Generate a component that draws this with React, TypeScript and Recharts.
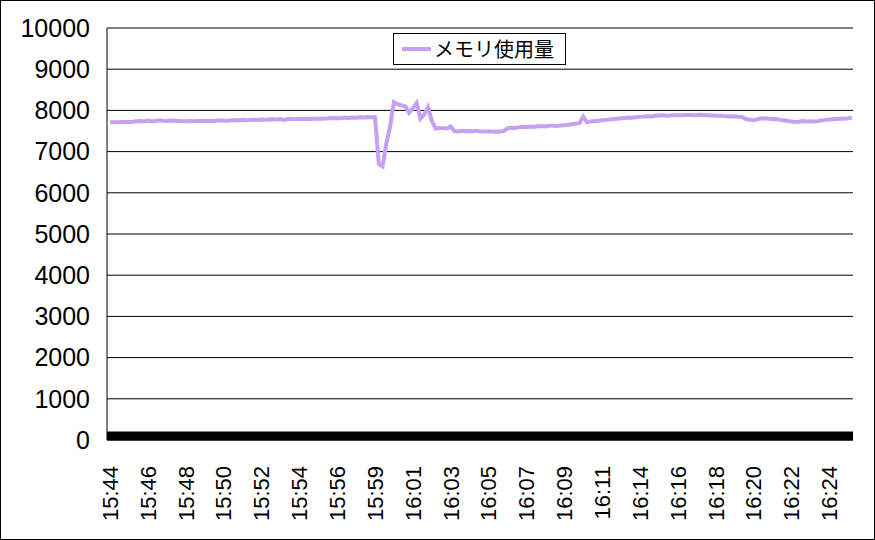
import { CartesianGrid, Line, LineChart, XAxis, YAxis } from 'recharts';

const timeLabels = [
  '15:44', '15:46', '15:48', '15:50', '15:52', '15:54', '15:56', '15:59', '16:01', '16:03',
  '16:05', '16:07', '16:09', '16:11', '16:14', '16:16', '16:18', '16:20', '16:22', '16:24',
];

// one sample roughly every 12 s, a time label every 10 samples
const memoryUsage = [
  7710, 7715, 7712, 7718, 7716, 7720, 7722, 7735, 7745, 7730,
  7752, 7738, 7745, 7760, 7748, 7742, 7755, 7750, 7745, 7740,
  7738, 7742, 7735, 7740, 7745, 7742, 7748, 7745, 7750, 7758,
  7752, 7748, 7760, 7765, 7758, 7770, 7762, 7768, 7775, 7770,
  7780, 7772, 7778, 7785, 7780, 7788, 7770, 7790, 7790, 7788,
  7792, 7790, 7795, 7790, 7795, 7798, 7800, 7805, 7810, 7815,
  7808, 7812, 7825, 7818, 7830, 7822, 7835, 7830, 7842, 7835,
  7840, 6700, 6640, 7200, 7620, 8200, 8150, 8120, 8100, 7940,
  8050, 8180, 7800, 7900, 8080, 7750, 7560, 7580, 7570, 7560,
  7610, 7500, 7490, 7505, 7495, 7500, 7495, 7505, 7490, 7485,
  7495, 7480, 7490, 7485, 7500, 7565, 7580, 7575, 7590, 7600,
  7595, 7610, 7600, 7615, 7620, 7610, 7625, 7630, 7620, 7635,
  7640, 7650, 7665, 7680, 7690, 7850, 7710, 7730, 7740, 7750,
  7760, 7770, 7780, 7790, 7800, 7810, 7815, 7825, 7820, 7835,
  7845, 7850, 7860, 7855, 7870, 7875, 7880, 7870, 7878, 7882,
  7885, 7880, 7888, 7890, 7885, 7888, 7892, 7885, 7880, 7875,
  7870, 7868, 7862, 7858, 7850, 7855, 7845, 7840, 7790, 7775,
  7760, 7780, 7810, 7805, 7795, 7785, 7790, 7770, 7760, 7745,
  7730, 7720, 7725, 7740, 7730, 7735, 7728, 7740, 7755, 7770,
  7780, 7785, 7790, 7795, 7800, 7810, 7825,
];

const yTicks = [0, 1000, 2000, 3000, 4000, 5000, 6000, 7000, 8000, 9000, 10000];

const LINE_COLOR = '#C8A0F2';
const FONT = '"Liberation Sans", Arial, sans-serif';

const data = memoryUsage.map((v, i) => ({ i, usage: v }));
const xTicks = timeLabels.map((_, k) => k * 10);

function TimeTick({ x, y, payload }: any) {
  return (
    <text
      x={x}
      y={y + 18}
      dy="0.36em"
      transform={`rotate(-90, ${x}, ${y + 18})`}
      textAnchor="end"
      fontSize={22}
      fontFamily={FONT}
      fill="#000"
    >
      {timeLabels[payload.value / 10]}
    </text>
  );
}

export default function App() {
  return (
    <div style={{ position: 'relative', width: 873, height: 538, border: '1px solid #000', background: '#fff' }}>
      <style>{'body{margin:0}'}</style>
      <LineChart width={873} height={538} data={data} margin={{ top: 27, right: 21, left: 0, bottom: 0 }}>
        <CartesianGrid vertical={false} stroke="#000" strokeOpacity={1} />
        <XAxis
          type="number"
          dataKey="i"
          domain={[0, memoryUsage.length - 1]}
          ticks={xTicks}
          interval={0}
          padding={{ left: 3, right: 1 }}
          height={99}
          tick={<TimeTick />}
          tickLine={false}
          axisLine={{ stroke: '#000', strokeWidth: 9, transform: 'translate(0,-4)' }}
        />
        <YAxis
          domain={[0, 10000]}
          ticks={yTicks}
          interval={0}
          width={106}
          tickSize={0}
          tickMargin={17}
          tick={{ fontSize: 25, fill: '#000', fontFamily: FONT }}
          axisLine={{ stroke: '#000', strokeWidth: 1 }}
          tickLine={false}
        />
        <Line
          type="linear"
          dataKey="usage"
          name="メモリ使用量"
          stroke={LINE_COLOR}
          strokeWidth={4}
          dot={false}
          isAnimationActive={false}
        />
      </LineChart>
      <div
        style={{
          position: 'absolute',
          left: 392,
          top: 32,
          width: 173,
          height: 32,
          border: '1px solid #000',
          background: '#fff',
          display: 'flex',
          alignItems: 'center',
          boxSizing: 'border-box',
        }}
      >
        <svg width={40} height={10}>
          <line x1={8} y1={5} x2={37} y2={5} stroke={LINE_COLOR} strokeWidth={4} />
        </svg>
        <span style={{ fontFamily: '"Noto Sans CJK JP", sans-serif', fontSize: 20, color: '#000', lineHeight: 1 }}>
          メモリ使用量
        </span>
      </div>
    </div>
  );
}
